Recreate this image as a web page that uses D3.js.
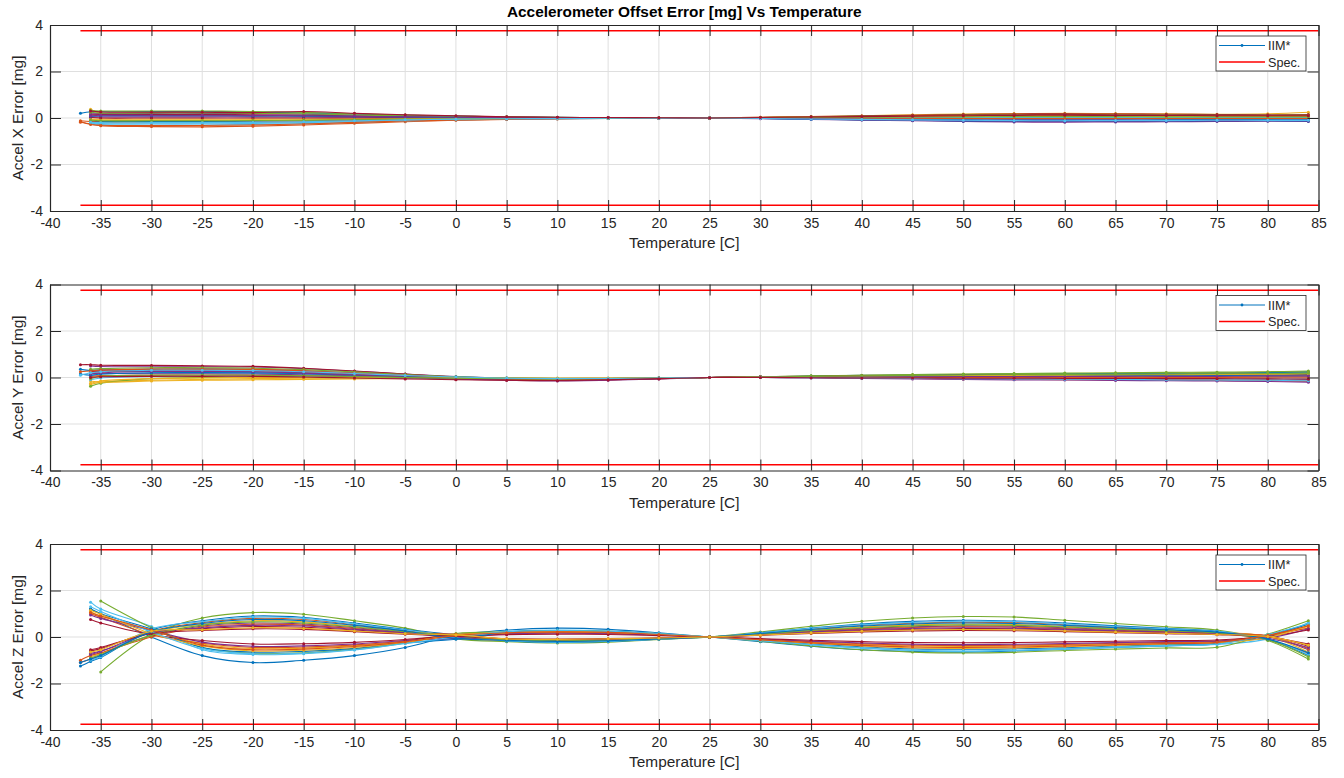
<!DOCTYPE html>
<html><head><meta charset="utf-8">
<script src="https://cdn.jsdelivr.net/npm/d3@7"></script>
<style>body{margin:0;background:#fff} svg{display:block;font-family:"Liberation Sans",Arial,Helvetica,sans-serif}</style>
</head><body><svg id="chart" width="1344" height="778"></svg>
<script>
// ---------------- data ----------------
const chartTitle = "Accelerometer Offset Error [mg] Vs Temperature";
const xLabel = "Temperature [C]";
const yLabels = ["Accel X Error [mg]", "Accel Y Error [mg]", "Accel Z Error [mg]"];
const legendLabels = ["IIM*", "Spec."];
const xTickValues = [-40,-35,-30,-25,-20,-15,-10,-5,0,5,10,15,20,25,30,35,40,45,50,55,60,65,70,75,80,85];
const yTickValues = [-4,-2,0,2,4];
const specLimit = 3.75;
const specRange = [-37, 85];
const seriesColors = ["#0072BD","#D95319","#EDB120","#7E2F8E","#77AC30","#4DBEEE","#A2142F"];
const temps = [-37,-36,-35,-30,-25,-20,-15,-10,-5,0,5,10,15,20,25,30,35,40,45,50,55,60,65,70,75,80,84];

const accelX = [
 [0.2,0.27,0.27,0.28,0.28,0.26,0.22,0.17,0.12,0.08,0.05,0.03,0.02,0.01,0,-0.02,-0.04,-0.06,-0.08,-0.1,-0.11,-0.12,-0.11,-0.11,-0.1,-0.1,-0.1],
 [-0.18,-0.25,-0.33,-0.37,-0.38,-0.35,-0.3,-0.23,-0.16,-0.1,-0.06,-0.04,-0.02,-0.01,0,0.01,0.02,0.03,0.03,0.04,0.05,0.05,0.05,0.04,0.04,0.04,0.04],
 [null,0.38,0.2,0.1,0.1,0.09,0.08,0.06,0.04,0.03,0.02,0.01,0.01,0,0,0.03,0.06,0.1,0.14,0.17,0.19,0.2,0.19,0.18,0.16,0.18,0.25],
 [null,0.05,0.05,0.05,0.05,0.05,0.04,0.03,0.02,0.01,0.01,0.01,0,0,0,-0.03,-0.06,-0.09,-0.12,-0.15,-0.17,-0.18,-0.17,-0.16,-0.15,-0.14,-0.15],
 [null,0.32,0.3,0.3,0.3,0.28,0.24,0.18,0.13,0.08,0.05,0.03,0.02,0.01,0,0.02,0.03,0.05,0.07,0.09,0.1,0.1,0.1,0.09,0.08,0.08,0.09],
 [null,-0.22,-0.28,-0.3,-0.3,-0.28,-0.24,-0.18,-0.13,-0.08,-0.05,-0.03,-0.02,-0.01,0,-0.01,-0.03,-0.04,-0.05,-0.07,-0.08,-0.08,-0.08,-0.07,-0.07,-0.06,-0.07],
 [null,0.14,0.15,0.15,0.15,0.14,0.12,0.09,0.06,0.04,0.03,0.02,0.01,0,0,0.03,0.06,0.09,0.12,0.15,0.17,0.18,0.17,0.16,0.15,0.14,0.15],
 [null,-0.14,-0.15,-0.15,-0.15,-0.14,-0.12,-0.09,-0.06,-0.04,-0.03,-0.02,-0.01,0,0,-0.02,-0.05,-0.08,-0.1,-0.13,-0.14,-0.15,-0.14,-0.13,-0.12,-0.12,-0.13],
 [-0.12,-0.15,-0.19,-0.2,-0.2,-0.19,-0.16,-0.12,-0.08,-0.05,-0.03,-0.02,-0.01,-0.01,0,0.02,0.04,0.06,0.08,0.1,0.11,0.12,0.11,0.11,0.1,0.1,0.1],
 [null,-0.06,-0.05,-0.05,-0.05,-0.05,-0.04,-0.03,-0.02,-0.01,-0.01,-0.01,0,0,0,0.01,0.03,0.04,0.05,0.07,0.08,0.08,0.08,0.07,0.07,0.06,0.07],
 [null,0.18,0.19,0.2,0.2,0.19,0.16,0.12,0.08,0.05,0.03,0.02,0.01,0.01,0,-0.01,-0.02,-0.03,-0.03,-0.04,-0.05,-0.05,-0.05,-0.04,-0.04,-0.04,-0.04],
 [null,0.25,0.21,0.22,0.22,0.2,0.18,0.13,0.09,0.06,0.04,0.02,0.01,0.01,0,0.02,0.05,0.08,0.1,0.13,0.14,0.15,0.14,0.13,0.12,0.12,0.13],
 [null,-0.2,-0.24,-0.25,-0.25,-0.23,-0.2,-0.15,-0.11,-0.07,-0.04,-0.03,-0.02,-0.01,0,0,0.01,0.01,0.01,0.02,0.02,0.02,0.02,0.02,0.02,0.02,0.02],
 [null,0.02,0,0,0,0,0,0,0,0,0,0,0,0,0,0.02,0.04,0.07,0.1,0.12,0.13,0.14,0.13,0.12,0.11,0.11,0.12],
 [null,0.08,0.1,0.1,0.1,0.09,0.08,0.06,0.04,0.03,0.02,0.01,0.01,0,0,-0.02,-0.03,-0.05,-0.07,-0.09,-0.1,-0.1,-0.1,-0.09,-0.08,-0.08,-0.09],
 [-0.15,-0.28,-0.31,-0.32,-0.32,-0.3,-0.26,-0.19,-0.13,-0.09,-0.05,-0.03,-0.02,-0.01,0,0,-0.01,-0.01,-0.01,-0.02,-0.02,-0.02,-0.02,-0.02,-0.02,-0.02,-0.02],
 [null,-0.08,-0.1,-0.1,-0.1,-0.09,-0.08,-0.06,-0.04,-0.03,-0.02,-0.01,-0.01,0,0,0.02,0.03,0.05,0.07,0.09,0.1,0.1,0.1,0.09,0.08,0.08,0.09],
 [null,0.1,0.12,0.12,0.12,0.11,0.1,0.07,0.05,0.03,0.02,0.01,0.01,0,0,-0.02,-0.04,-0.07,-0.1,-0.12,-0.13,-0.14,-0.13,-0.12,-0.11,-0.11,-0.12],
 [null,-0.1,-0.12,-0.12,-0.12,-0.11,-0.1,-0.07,-0.05,-0.03,-0.02,-0.01,-0.01,0,0,0.01,0.02,0.03,0.04,0.05,0.06,0.06,0.06,0.05,0.05,0.05,0.05],
 [null,-0.18,-0.2,-0.2,-0.2,-0.19,-0.16,-0.12,-0.08,-0.05,-0.03,-0.02,-0.01,-0.01,0,-0.02,-0.04,-0.06,-0.08,-0.1,-0.11,-0.12,-0.11,-0.11,-0.1,-0.1,-0.1],
 [null,0.3,0.26,0.25,0.25,0.23,0.28,0.2,0.14,0.1,0.05,0.03,0.02,0.01,0,0.02,0.04,0.06,0.08,0.1,0.11,0.12,0.11,0.11,0.1,0.1,0.1]
];

const accelY = [
 [null,0.3,0.33,0.36,0.37,0.35,0.29,0.2,0.1,0,-0.06,-0.08,-0.06,-0.03,0,0.03,0.05,0.08,0.1,0.12,0.13,0.14,0.15,0.15,0.16,0.18,0.2],
 [null,0.05,0.08,0.1,0.1,0.1,0.07,0.03,-0.02,-0.07,-0.1,-0.12,-0.09,-0.04,0,0.01,0.01,-0.01,-0.03,-0.05,-0.06,-0.08,-0.09,-0.1,-0.11,-0.12,-0.15],
 [null,-0.3,-0.2,-0.12,-0.08,-0.05,-0.03,-0.02,-0.02,-0.03,-0.04,-0.05,-0.04,-0.02,0,0.03,0.06,0.09,0.12,0.14,0.16,0.17,0.18,0.2,0.21,0.23,0.25],
 [null,0.5,0.47,0.46,0.46,0.45,0.38,0.27,0.15,0.04,-0.03,-0.06,-0.05,-0.02,0,0.02,0.04,0.05,0.05,0.05,0.05,0.05,0.05,0.05,0.05,0.06,0.07],
 [null,-0.38,-0.25,-0.05,0,0,0,-0.01,-0.03,-0.06,-0.09,-0.1,-0.08,-0.04,0,0.02,0.04,0.05,0.06,0.07,0.08,0.09,0.09,0.1,0.11,0.12,0.13],
 [null,0.1,0.15,0.2,0.21,0.2,0.17,0.12,0.07,0.02,-0.01,-0.03,-0.03,-0.01,0,0.01,0.01,0,-0.01,-0.02,-0.03,-0.04,-0.04,-0.05,-0.06,-0.07,-0.08],
 [0.55,0.55,0.53,0.52,0.5,0.48,0.4,0.28,0.15,0.02,-0.06,-0.1,-0.08,-0.04,0,0.03,0.05,0.06,0.07,0.08,0.08,0.09,0.09,0.1,0.1,0.11,0.12],
 [0.35,0.3,0.27,0.26,0.26,0.25,0.21,0.15,0.08,0.02,-0.02,-0.04,-0.03,-0.01,0,0.03,0.06,0.09,0.11,0.13,0.15,0.16,0.17,0.18,0.19,0.21,0.24],
 [null,0.2,0.25,0.3,0.31,0.3,0.24,0.15,0.05,-0.05,-0.11,-0.14,-0.11,-0.05,0,0.01,0,-0.02,-0.04,-0.06,-0.08,-0.09,-0.1,-0.12,-0.13,-0.14,-0.16],
 [null,-0.15,-0.2,-0.15,-0.12,-0.1,-0.08,-0.06,-0.04,-0.03,-0.02,-0.02,-0.02,-0.01,0,0.01,0.02,0.03,0.03,0.04,0.04,0.05,0.05,0.05,0.05,0.06,0.06],
 [null,0.2,0.18,0.16,0.16,0.15,0.12,0.07,0.02,-0.03,-0.06,-0.08,-0.07,-0.03,0,0,-0.02,-0.04,-0.06,-0.08,-0.1,-0.11,-0.13,-0.14,-0.15,-0.17,-0.2],
 [null,0.35,0.38,0.42,0.42,0.4,0.34,0.24,0.13,0.03,-0.03,-0.05,-0.04,-0.02,0,0.03,0.07,0.1,0.13,0.15,0.17,0.19,0.2,0.22,0.23,0.25,0.28],
 [null,-0.1,-0.02,0.04,0.05,0.05,0.03,0,-0.03,-0.06,-0.08,-0.1,-0.08,-0.04,0,0.01,0.01,0.01,0,0,0,0,0,0,-0.01,-0.01,-0.02],
 [null,0.25,0.28,0.31,0.31,0.3,0.25,0.16,0.07,-0.03,-0.09,-0.12,-0.1,-0.05,0,0.02,0.04,0.06,0.08,0.09,0.1,0.11,0.11,0.12,0.13,0.14,0.15],
 [0.15,0.1,0.15,0.2,0.21,0.2,0.16,0.1,0.04,-0.01,-0.04,-0.06,-0.05,-0.02,0,0.02,0.03,0.04,0.05,0.06,0.07,0.07,0.08,0.08,0.09,0.1,0.11],
 [0.25,0.28,0.32,0.36,0.36,0.35,0.29,0.19,0.09,0,-0.06,-0.09,-0.07,-0.03,0,0.02,0.02,0.01,0.01,0,0,0,0,0,0,-0.01,-0.01],
 [null,-0.25,-0.15,-0.05,-0.02,0,0,0,-0.01,-0.02,-0.03,-0.04,-0.03,-0.02,0,0.02,0.04,0.05,0.07,0.08,0.09,0.1,0.11,0.12,0.13,0.14,0.16],
 [null,0.15,0.2,0.26,0.26,0.25,0.19,0.11,0.02,-0.07,-0.12,-0.15,-0.12,-0.06,0,0.02,0.03,0.03,0.03,0.04,0.04,0.04,0.05,0.05,0.05,0.06,0.06],
 [null,-0.05,0.05,0.1,0.11,0.1,0.08,0.04,0,-0.03,-0.05,-0.07,-0.06,-0.03,0,0.02,0.05,0.07,0.09,0.11,0.12,0.13,0.14,0.15,0.16,0.17,0.19],
 [0.1,0.2,0.25,0.31,0.31,0.3,0.25,0.17,0.09,0.02,-0.03,-0.05,-0.04,-0.02,0,0,-0.01,-0.02,-0.04,-0.05,-0.06,-0.07,-0.08,-0.1,-0.11,-0.12,-0.14],
 [null,0,0.03,0.05,0.05,0.05,0.02,-0.02,-0.06,-0.1,-0.12,-0.13,-0.1,-0.05,0,0,-0.01,-0.02,-0.02,-0.03,-0.03,-0.04,-0.04,-0.05,-0.05,-0.06,-0.07]
];

const accelZ = [
 [null,1.2,1.0,0.0,-0.8,-1.1,-1.0,-0.8,-0.45,0.08,0.3,0.38,0.33,0.18,0,-0.2,-0.4,-0.55,-0.62,-0.65,-0.6,-0.52,-0.45,-0.38,-0.3,0.1,0.55],
 [-1.1,-0.95,-0.8,0.25,0.62,0.8,0.75,0.53,0.28,-0.05,-0.15,-0.2,-0.17,-0.09,0,0.16,0.34,0.5,0.59,0.64,0.62,0.53,0.42,0.33,0.22,-0.12,-0.7],
 [null,1.1,0.9,0.3,-0.3,-0.5,-0.48,-0.38,-0.19,0.1,0.16,0.2,0.18,0.1,0,-0.11,-0.23,-0.33,-0.39,-0.41,-0.39,-0.35,-0.3,-0.25,-0.21,0.05,0.45],
 [null,-0.7,-0.6,0.05,0.47,0.6,0.56,0.4,0.21,0.06,-0.11,-0.15,-0.13,-0.07,0,0.12,0.26,0.37,0.44,0.48,0.46,0.4,0.32,0.25,0.17,0.02,-0.55],
 [null,null,-1.5,0.1,0.82,1.05,0.98,0.7,0.38,-0.08,-0.2,-0.26,-0.22,-0.11,0,0.22,0.46,0.68,0.82,0.88,0.86,0.72,0.58,0.44,0.3,-0.15,-0.95],
 [null,1.5,1.2,0.45,-0.55,-0.75,-0.72,-0.56,-0.28,-0.05,0.24,0.3,0.26,0.15,0,-0.16,-0.34,-0.48,-0.58,-0.62,-0.58,-0.52,-0.45,-0.38,-0.32,-0.08,0.62],
 [null,-0.6,-0.5,0.2,0.36,0.45,0.42,0.3,0.16,0.08,-0.09,-0.11,-0.1,-0.05,0,0.09,0.19,0.28,0.33,0.36,0.35,0.3,0.24,0.18,0.13,0.05,-0.4],
 [-1.25,-1.05,-0.88,0.3,0.7,0.9,0.84,0.6,0.32,0.1,-0.17,-0.23,-0.19,-0.1,0,0.18,0.39,0.56,0.67,0.72,0.69,0.6,0.48,0.37,0.25,-0.1,-0.8],
 [null,1.0,0.85,0.1,-0.27,-0.45,-0.43,-0.34,-0.17,0.12,0.14,0.18,0.16,0.09,0,-0.1,-0.2,-0.29,-0.35,-0.37,-0.35,-0.32,-0.27,-0.23,-0.19,0.08,0.38],
 [null,-0.85,-0.72,0.2,0.55,0.7,0.65,0.46,0.25,-0.04,-0.13,-0.18,-0.15,-0.08,0,0.14,0.3,0.43,0.52,0.56,0.54,0.46,0.37,0.29,0.2,0.03,-0.65],
 [null,0.95,0.8,0.28,-0.22,-0.4,-0.38,-0.3,-0.15,-0.06,0.13,0.16,0.14,0.08,0,-0.09,-0.18,-0.26,-0.31,-0.33,-0.31,-0.28,-0.24,-0.2,-0.17,-0.05,0.35],
 [null,null,1.55,0.4,-0.45,-0.7,-0.68,-0.52,-0.26,0.15,0.22,0.28,0.25,0.14,0,-0.18,-0.38,-0.55,-0.65,-0.69,-0.66,-0.58,-0.52,-0.47,-0.44,0.12,0.7],
 [null,-1.0,-0.85,0.35,0.66,0.85,0.8,0.56,0.3,0.04,-0.16,-0.22,-0.18,-0.09,0,0.17,0.37,0.53,0.63,0.68,0.66,0.56,0.45,0.35,0.24,-0.08,-0.75],
 [null,0.75,0.6,0.1,-0.15,-0.3,-0.29,-0.23,-0.11,0.05,0.1,0.12,0.11,0.06,0,-0.07,-0.14,-0.2,-0.24,-0.25,-0.24,-0.21,-0.18,-0.15,-0.13,0.03,0.3],
 [null,1.2,1.0,0.35,-0.45,-0.65,-0.62,-0.49,-0.25,-0.1,0.21,0.26,0.23,0.13,0,-0.14,-0.3,-0.42,-0.51,-0.53,-0.51,-0.46,-0.39,-0.33,-0.27,0.06,0.55],
 [-1.0,-0.8,-0.68,0.0,0.43,0.55,0.51,0.36,0.19,0.12,-0.1,-0.14,-0.12,-0.06,0,0.11,0.24,0.34,0.41,0.44,0.42,0.36,0.29,0.23,0.15,0.04,-0.5],
 [null,1.15,0.98,0.15,-0.38,-0.6,-0.57,-0.45,-0.23,0.08,0.19,0.24,0.21,0.12,0,-0.13,-0.27,-0.39,-0.47,-0.49,-0.47,-0.42,-0.36,-0.3,-0.25,-0.03,0.5],
 [null,-0.75,-0.62,0.18,0.39,0.5,0.47,0.33,0.18,-0.02,-0.1,-0.13,-0.11,-0.06,0,0.1,0.22,0.31,0.37,0.4,0.38,0.33,0.27,0.21,0.14,-0.06,-0.45],
 [null,-0.9,-0.75,0.08,0.51,0.65,0.6,0.43,0.23,0.05,-0.12,-0.16,-0.14,-0.07,0,0.13,0.28,0.4,0.48,0.52,0.5,0.43,0.34,0.27,0.18,-0.12,-0.85],
 [null,1.3,1.1,0.22,-0.5,-0.72,-0.7,-0.55,-0.28,0.0,0.22,0.28,0.25,0.14,0,-0.16,-0.33,-0.47,-0.56,-0.6,-0.57,-0.5,-0.43,-0.36,-0.3,0.1,0.58],
 [null,-0.55,-0.45,0.15,0.28,0.35,0.33,0.23,0.12,0.03,-0.07,-0.09,-0.07,-0.04,0,0.07,0.15,0.22,0.26,0.28,0.27,0.23,0.19,0.14,0.1,0.0,-0.3],
 [-1.1,-0.95,-0.8,0.22,0.58,0.75,0.7,0.5,0.26,-0.06,-0.14,-0.19,-0.16,-0.08,0,0.15,0.32,0.47,0.56,0.6,0.58,0.5,0.4,0.31,0.21,-0.09,-0.68],
 [null,1.05,0.9,0.3,-0.35,-0.55,-0.52,-0.41,-0.21,0.06,0.18,0.22,0.2,0.11,0,-0.12,-0.25,-0.36,-0.43,-0.45,-0.43,-0.39,-0.33,-0.28,-0.23,0.07,0.48],
 [null,-0.65,-0.55,0.25,0.31,0.4,0.37,0.26,0.14,0.09,-0.08,-0.1,-0.08,-0.04,0,0.08,0.17,0.25,0.3,0.32,0.31,0.26,0.21,0.16,0.11,0.02,-0.35]
];

// ---------------- layout ----------------
const plotLeft = 50, plotRight = 1318.5, plotH = 186;
const panelTops = [25, 284.5, 544];
const panelData = [accelX, accelY, accelZ];
const ink = "#262626", gridCol = "#dfdfdf";

const svg = d3.select("#chart");
const x = d3.scaleLinear().domain([-40, 85]).range([plotLeft, plotRight]);

svg.append("text").attr("x", (plotLeft+plotRight)/2).attr("y", 17)
  .attr("text-anchor","middle").attr("font-size","15.4px").attr("font-weight","bold")
  .attr("fill","#000").text(chartTitle);

panelTops.forEach((top, pi) => {
  const bottom = top + plotH;
  const y = d3.scaleLinear().domain([-4, 4]).range([bottom, top]);
  const g = svg.append("g");
  const clipId = "clip"+pi;
  svg.append("clipPath").attr("id", clipId).append("rect")
    .attr("x", plotLeft).attr("y", top).attr("width", plotRight-plotLeft).attr("height", plotH);

  // grid
  g.append("g").selectAll("line").data(xTickValues.slice(1,-1)).join("line")
    .attr("x1", d=>x(d)).attr("x2", d=>x(d)).attr("y1", top).attr("y2", bottom)
    .attr("stroke", gridCol).attr("stroke-width", 1);
  g.append("g").selectAll("line").data(yTickValues.slice(1,-1)).join("line")
    .attr("x1", plotLeft).attr("x2", plotRight).attr("y1", d=>y(d)).attr("y2", d=>y(d))
    .attr("stroke", gridCol).attr("stroke-width", 1);

  // series
  const plot = g.append("g").attr("clip-path", `url(#${clipId})`);
  const line = d3.line().defined(d=>d[1]!==null).x(d=>x(d[0])).y(d=>y(d[1]))
    .curve(d3.curveCatmullRom.alpha(0.5));
  const straight = d3.line().x(d=>x(d[0])).y(d=>y(d[1]));
  panelData[pi].forEach((vals, si) => {
    const pts = temps.map((t,i)=>[t, vals[i]]);
    const col = seriesColors[si % seriesColors.length];
    plot.append("path").datum(pts).attr("d", line).attr("fill","none")
      .attr("stroke", col).attr("stroke-width", 1.1);
    plot.append("g").selectAll("circle").data(pts.filter(d=>d[1]!==null)).join("circle")
      .attr("cx", d=>x(d[0])).attr("cy", d=>y(d[1])).attr("r", 1.5).attr("fill", col);
  });

  // spec lines
  [specLimit, -specLimit].forEach(v => {
    plot.append("path").datum(specRange.map(t=>[t, v])).attr("d", straight)
      .attr("fill","none").attr("stroke","#ff0000").attr("stroke-width", 1.4);
  });

  // axes
  const fmt = d => String(d);
  const axB = g.append("g").attr("transform",`translate(0,${bottom})`)
    .call(d3.axisBottom(x).tickValues(xTickValues).tickFormat(fmt).tickSizeInner(-11).tickSizeOuter(0).tickPadding(7));
  const axT = g.append("g").attr("transform",`translate(0,${top})`)
    .call(d3.axisTop(x).tickValues(xTickValues).tickFormat("").tickSizeInner(-11).tickSizeOuter(0));
  const axL = g.append("g").attr("transform",`translate(${plotLeft},0)`)
    .call(d3.axisLeft(y).tickValues(yTickValues).tickFormat(fmt).tickSizeInner(-11).tickSizeOuter(0).tickPadding(7));
  const axR = g.append("g").attr("transform",`translate(${plotRight},0)`)
    .call(d3.axisRight(y).tickValues(yTickValues).tickFormat("").tickSizeInner(-11).tickSizeOuter(0));
  [axB, axT, axL, axR].forEach(a => {
    a.select(".domain").attr("stroke", ink).attr("stroke-width", 1.2);
    a.selectAll(".tick line").attr("stroke", ink).attr("stroke-width", 1);
    a.selectAll(".tick text").attr("fill", ink).attr("font-size", "14px")
      .attr("font-family", '"Liberation Sans",Arial,sans-serif');
  });

  // labels
  g.append("text").attr("x", (plotLeft+plotRight)/2).attr("y", bottom+37)
    .attr("text-anchor","middle").attr("font-size","15.4px").attr("fill", ink).text(xLabel);
  g.append("text").attr("transform", `translate(23,${(top+bottom)/2}) rotate(-90)`)
    .attr("text-anchor","middle").attr("font-size","15.4px").attr("fill", ink).text(yLabels[pi]);

  // legend
  const lg = g.append("g").attr("transform", `translate(1216,${top+11})`);
  lg.append("rect").attr("width", 90).attr("height", 35).attr("fill","#fff")
    .attr("stroke", ink).attr("stroke-width", 0.8);
  const legCols = [seriesColors[0], "#ff0000"];
  legendLabels.forEach((lab, li) => {
    const ly = 9.5 + li*16.5;
    lg.append("line").attr("x1", 3).attr("x2", 49).attr("y1", ly).attr("y2", ly)
      .attr("stroke", legCols[li]).attr("stroke-width", li===0 ? 1 : 1.4);
    if (li===0) lg.append("circle").attr("cx", 26).attr("cy", ly).attr("r", 1.4).attr("fill", legCols[li]);
    lg.append("text").attr("x", 52).attr("y", ly+4.5).attr("font-size","12.6px").attr("fill", ink).text(lab);
  });
});
</script></body></html>
